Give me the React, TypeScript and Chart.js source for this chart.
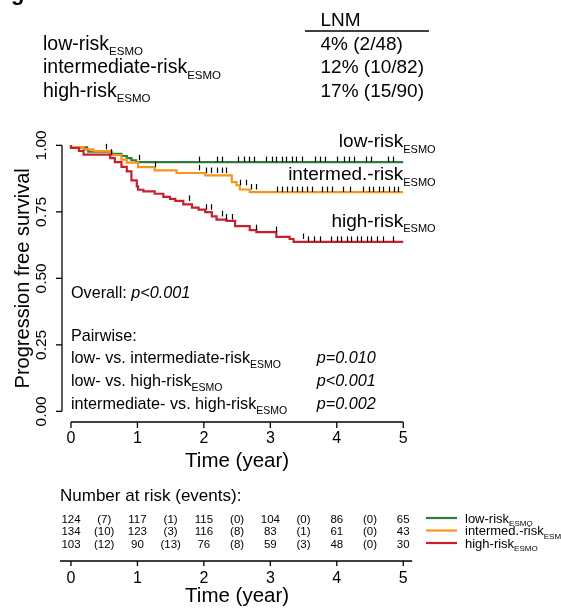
import React, { useEffect, useRef } from "react";
import { Chart, registerables } from "chart.js";

Chart.register(...registerables);

const W = 561;
const H = 608;

// ---- data ----
const groupNames = ["low-risk", "intermediate-risk", "high-risk"];
const curveLabels = ["low-risk", "intermed.-risk", "high-risk"];
const legendLabels = ["low-risk", "intermed.-risk", "high-risk"];
const lnmValues = ["4% (2/48)", "12% (10/82)", "17% (15/90)"];
const colors = ["#2e7b3c", "#f7941d", "#c8202f"];

const lowTimes = [0, 0.24, 0.26, 0.61, 0.76, 0.84, 0.91, 0.98, 1.09, 5];
const lowSurv = [1, 0.992, 0.984, 0.976, 0.968, 0.96, 0.952, 0.944, 0.937, 0.937];
const lowCensor = [1.02, 1.93, 2.19, 2.27, 2.52, 2.6, 2.68, 2.75, 2.94, 3.02, 3.09, 3.17, 3.24, 3.32, 3.39, 3.47, 3.67, 3.75, 3.82, 4.01, 4.11, 4.18, 4.26, 4.44, 4.51, 4.77, 4.85];

const intTimes = [0, 0.19, 0.34, 0.59, 0.76, 0.84, 1.01, 1.26, 1.59, 2.02, 2.42, 2.49, 2.54, 2.69, 3.0, 5];
const intSurv = [1, 0.993, 0.985, 0.978, 0.963, 0.946, 0.935, 0.918, 0.906, 0.896, 0.887, 0.862, 0.85, 0.834, 0.824, 0.824];
const intCensor = [0.52, 1.27, 1.93, 2.03, 2.11, 2.19, 2.27, 2.34, 2.55, 2.63, 2.71, 2.79, 3.1, 3.18, 3.25, 3.33, 3.4, 3.48, 3.55, 3.63, 3.78, 3.86, 3.93, 4.1, 4.2, 4.4, 4.48, 4.55, 4.63, 4.7, 4.78, 4.86, 4.92];

const highTimes = [0, 0.12, 0.19, 0.59, 0.66, 0.76, 0.84, 0.91, 0.99, 1.01, 1.09, 1.26, 1.39, 1.49, 1.57, 1.69, 1.82, 1.92, 2.02, 2.12, 2.19, 2.34, 2.47, 2.69, 2.79, 3.09, 3.29, 3.35, 3.57, 5];
const highSurv = [1, 0.99, 0.979, 0.965, 0.952, 0.937, 0.919, 0.902, 0.868, 0.846, 0.833, 0.827, 0.818, 0.806, 0.799, 0.791, 0.778, 0.766, 0.758, 0.749, 0.733, 0.721, 0.716, 0.696, 0.681, 0.674, 0.656, 0.648, 0.637, 0.637];
const highCensor = [0.6, 1.77, 2.03, 2.11, 2.27, 2.34, 2.42, 2.79, 3.09, 3.49, 3.57, 3.66, 3.75, 3.92, 4.0, 4.07, 4.15, 4.22, 4.3, 4.37, 4.45, 4.52, 4.6, 4.7, 4.85];

const yTicks = [0, 0.25, 0.5, 0.75, 1];
const yTickLabels = ["0.00", "0.25", "0.50", "0.75", "1.00"];
const xTicks = [0, 1, 2, 3, 4, 5];
const xTickLabels = ["0", "1", "2", "3", "4", "5"];

const riskYears = [0, 1, 2, 3, 4, 5];
const atRiskLow = [124, 117, 115, 104, 86, 65];
const eventsLow = [7, 1, 0, 0, 0];
const atRiskInt = [134, 123, 116, 83, 61, 43];
const eventsInt = [10, 3, 8, 1, 0];
const atRiskHigh = [103, 90, 76, 59, 48, 30];
const eventsHigh = [12, 13, 8, 3, 0];

const overallLabel = "Overall: ";
const overallP = "p<0.001";
const pairLabels = ["low- vs. intermediate-risk", "low- vs. high-risk", "intermediate- vs. high-risk"];
const pairP = ["p=0.010", "p<0.001", "p=0.002"];

// ---- helpers ----
const FAMILY = '"Liberation Sans", Arial, Helvetica, sans-serif';
function fontStr(size: number, italic = false, bold = false) {
  return `${italic ? "italic " : ""}${bold ? "bold " : ""}${size}px ${FAMILY}`;
}
type Seg = { t: string; s: number; i?: boolean; dy?: number };
function drawSegs(ctx: CanvasRenderingContext2D, segs: Seg[], x: number, y: number, align: "left" | "right" | "center" = "left") {
  ctx.textAlign = "left";
  ctx.textBaseline = "alphabetic";
  const ws = segs.map((g) => {
    ctx.font = fontStr(g.s, g.i);
    return ctx.measureText(g.t).width;
  });
  const total = ws.reduce((a, b) => a + b, 0);
  let cx = align === "left" ? x : align === "right" ? x - total : x - total / 2;
  segs.forEach((g, k) => {
    ctx.font = fontStr(g.s, g.i);
    ctx.fillText(g.t, cx, y + (g.dy || 0));
    cx += ws[k];
  });
}
const sub = (s: number, dy: number): Seg => ({ t: "ESMO", s, dy });

function survAt(times: number[], surv: number[], t: number) {
  let v = surv[0];
  for (let i = 0; i < times.length; i++) if (times[i] <= t) v = surv[i];
  return v;
}

const series = [
  { times: lowTimes, surv: lowSurv, censor: lowCensor, color: colors[0], atRisk: atRiskLow, events: eventsLow },
  { times: intTimes, surv: intSurv, censor: intCensor, color: colors[1], atRisk: atRiskInt, events: eventsInt },
  { times: highTimes, surv: highSurv, censor: highCensor, color: colors[2], atRisk: atRiskHigh, events: eventsHigh },
];

const overlay = {
  id: "overlay",
  afterDatasetsDraw(chart: any) {
    const ctx: CanvasRenderingContext2D = chart.ctx;
    const xs = chart.scales.x;
    const ys = chart.scales.y;
    ctx.save();
    ctx.strokeStyle = "#000";
    ctx.lineWidth = 1.2;
    series.forEach((s) =>
      s.censor.forEach((t) => {
        const px = Math.round(xs.getPixelForValue(t)) + 0.5;
        const py = ys.getPixelForValue(survAt(s.times, s.surv, t));
        ctx.beginPath();
        ctx.moveTo(px, py);
        ctx.lineTo(px, py - 5.5);
        ctx.stroke();
      })
    );
    ctx.restore();
  },
  afterDraw(chart: any) {
    const ctx: CanvasRenderingContext2D = chart.ctx;
    const xs = chart.scales.x;
    const ys = chart.scales.y;
    const ca = chart.chartArea;
    ctx.save();
    ctx.fillStyle = "#000";
    ctx.strokeStyle = "#000";

    // panel letter (cut at top)
    ctx.font = fontStr(22, false, true);
    ctx.textAlign = "left";
    ctx.fillText("g", 11, -0.5);

    // ---- top LNM table ----
    const rowsY = [49.5, 73, 96.5];
    groupNames.forEach((g, k) => {
      drawSegs(ctx, [{ t: g, s: 19.5 }, sub(11.5, 5.5)], 43, rowsY[k]);
      drawSegs(ctx, [{ t: lnmValues[k], s: 19 }], 320.5, rowsY[k]);
    });
    drawSegs(ctx, [{ t: "LNM", s: 19 }], 320.5, 26);
    ctx.lineWidth = 1.5;
    ctx.beginPath();
    ctx.moveTo(305, 31);
    ctx.lineTo(429, 31);
    ctx.stroke();

    // ---- main axes ----
    ctx.lineWidth = 1.3;
    const y0 = ys.getPixelForValue(0);
    const y1 = ys.getPixelForValue(1);
    ctx.beginPath();
    ctx.moveTo(ca.left, y0);
    ctx.lineTo(ca.left, y1);
    ctx.stroke();
    yTicks.forEach((v, k) => {
      const py = ys.getPixelForValue(v);
      ctx.beginPath();
      ctx.moveTo(ca.left - 6, py);
      ctx.lineTo(ca.left, py);
      ctx.stroke();
      ctx.save();
      ctx.translate(ca.left - 16, py);
      ctx.rotate(-Math.PI / 2);
      ctx.font = fontStr(15.5);
      ctx.textAlign = "center";
      ctx.textBaseline = "alphabetic";
      ctx.fillText(yTickLabels[k], 0, 0);
      ctx.restore();
    });
    const xa = ca.bottom;
    ctx.beginPath();
    ctx.moveTo(xs.getPixelForValue(0), xa);
    ctx.lineTo(xs.getPixelForValue(5), xa);
    ctx.stroke();
    xTicks.forEach((t, k) => {
      const px = xs.getPixelForValue(t);
      ctx.beginPath();
      ctx.moveTo(px, xa);
      ctx.lineTo(px, xa + 6);
      ctx.stroke();
      drawSegs(ctx, [{ t: xTickLabels[k], s: 16 }], px, xa + 21, "center");
    });
    drawSegs(ctx, [{ t: "Time (year)", s: 20.5 }], xs.getPixelForValue(2.5), xa + 45, "center");
    ctx.save();
    ctx.translate(29, ys.getPixelForValue(0.5));
    ctx.rotate(-Math.PI / 2);
    ctx.font = fontStr(20);
    ctx.textAlign = "center";
    ctx.fillText("Progression free survival", 0, 0);
    ctx.restore();

    // ---- curve labels ----
    const labY = [147, 180, 226.5];
    const x5 = xs.getPixelForValue(5);
    curveLabels.forEach((l, k) => {
      drawSegs(ctx, [{ t: l, s: 19 }], x5, labY[k], "right");
      drawSegs(ctx, [sub(11, 5.5)], x5, labY[k], "left");
    });

    // ---- p-values ----
    const tx = xs.getPixelForValue(0);
    const px = xs.getPixelForValue(3.7);
    drawSegs(ctx, [{ t: overallLabel, s: 16.2 }, { t: overallP, s: 16.2, i: true }], tx, 297.5);
    drawSegs(ctx, [{ t: "Pairwise:", s: 16.2 }], tx, 340.5);
    const pairY = [363, 386, 409];
    pairLabels.forEach((l, k) => {
      drawSegs(ctx, [{ t: l, s: 16.2 }, sub(10.5, 4.5)], tx, pairY[k]);
      drawSegs(ctx, [{ t: pairP[k], s: 16.2, i: true }], px, pairY[k]);
    });

    // ---- number at risk ----
    drawSegs(ctx, [{ t: "Number at risk (events):", s: 17 }], 60, 500.5);
    const rY = [522.5, 535, 547.5];
    series.forEach((s, k) => {
      riskYears.forEach((yr, j) => {
        drawSegs(ctx, [{ t: String(s.atRisk[j]), s: 11.5 }], xs.getPixelForValue(yr), rY[k], "center");
        if (j < s.events.length)
          drawSegs(ctx, [{ t: `(${s.events[j]})`, s: 11.5 }], xs.getPixelForValue(yr + 0.5), rY[k], "center");
      });
      // legend
      ctx.strokeStyle = s.color;
      ctx.lineWidth = 2.2;
      ctx.beginPath();
      ctx.moveTo(426, rY[k] - 4.5);
      ctx.lineTo(457, rY[k] - 4.5);
      ctx.stroke();
      drawSegs(ctx, [{ t: legendLabels[k], s: 13 }, sub(8, 3.5)], 465, rY[k]);
    });
    ctx.strokeStyle = "#000";
    ctx.lineWidth = 1.3;
    const by = 561;
    ctx.beginPath();
    ctx.moveTo(ca.left - 2, by);
    ctx.lineTo(ca.right, by);
    ctx.stroke();
    xTicks.forEach((t, k) => {
      const p = xs.getPixelForValue(t);
      ctx.beginPath();
      ctx.moveTo(p, by);
      ctx.lineTo(p, by + 5);
      ctx.stroke();
      drawSegs(ctx, [{ t: xTickLabels[k], s: 16 }], p, by + 22, "center");
    });
    drawSegs(ctx, [{ t: "Time (year)", s: 20.5 }], xs.getPixelForValue(2.5), 602, "center");
    ctx.restore();
  },
};

export default function App() {
  const ref = useRef<HTMLCanvasElement | null>(null);
  useEffect(() => {
    if (!ref.current) return;
    const orders = [3, 2, 1];
    const chart = new Chart(ref.current, {
      type: "line",
      data: {
        datasets: series.map((s, k) => ({
          label: groupNames[k],
          data: s.times.map((t, i) => ({ x: t, y: s.surv[i] })),
          borderColor: s.color,
          borderWidth: 2.2,
          stepped: "after" as const,
          pointRadius: 0,
          fill: false,
          order: orders[k],
        })),
      },
      options: {
        responsive: false,
        animation: false,
        devicePixelRatio: 1,
        events: [],
        layout: { padding: { left: 62, right: W - 412.2, top: 134.7, bottom: H - 422 } },
        scales: {
          x: { type: "linear", min: -0.135, max: 5.135, display: false },
          y: { type: "linear", min: -0.04, max: 1.04, display: false },
        },
        plugins: { legend: { display: false }, tooltip: { enabled: false } },
      },
      plugins: [overlay],
    });
    return () => chart.destroy();
  }, []);
  return (
    <div style={{ position: "fixed", left: 0, top: 0, width: W, height: H, background: "#fff" }}>
      <canvas ref={ref} width={W} height={H} style={{ display: "block", width: W, height: H }} />
    </div>
  );
}
